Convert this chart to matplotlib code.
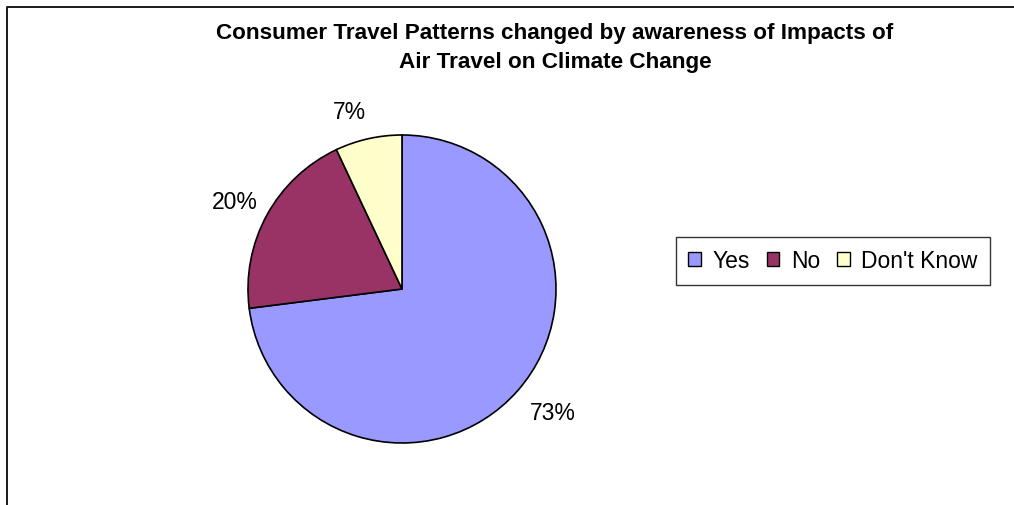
import matplotlib

matplotlib.use("Agg")

import matplotlib.pyplot as plt
from matplotlib.lines import Line2D

plt.rcParams["font.family"] = ["Liberation Sans", "DejaVu Sans"]

TITLE = "Consumer Travel Patterns changed by awareness of Impacts of\nAir Travel on Climate Change"
CATEGORIES = ["Yes", "No", "Don't Know"]
SHARES = [73, 20, 7]
COLORS = ["#9999FF", "#993366", "#FFFFCC"]

# label anchor points in pie units (radius = 1)
LABEL_XY = [(0.98, -0.80), (-1.085, 0.565), (-0.34, 1.15)]

W, H = 1014, 506
fig = plt.figure(figsize=(W / 100, H / 100), dpi=100)
fig.patch.set_facecolor("white")

# chart-area frame: only the left and top edges fall inside the image
fx, fy = 7 / W, 1 - 8 / H
fig.add_artist(Line2D([fx, fx, 1.0], [0.0, fy, fy], transform=fig.transFigure,
                      color="#1a1a1a", linewidth=1.4))

cx, cy, r = 402, 290, 154
ax = fig.add_axes([(cx - r) / W, (H - cy - r) / H, 2 * r / W, 2 * r / H])
wedges, _ = ax.pie(
    SHARES,
    colors=COLORS,
    startangle=90,
    counterclock=False,
    radius=1.0,
    wedgeprops={"edgecolor": "black", "linewidth": 1.2},
)
ax.set_xlim(-1, 1)
ax.set_ylim(-1, 1)
ax.set_aspect("equal")
ax.axis("off")

for val, (lx, ly) in zip(SHARES, LABEL_XY):
    ax.text(lx, ly, f"{val}%", ha="center", va="center", fontsize=16.5)

fig.text(555 / W, 1 - 48 / H, TITLE, ha="center", va="center", fontsize=16.2,
         fontweight="bold", linespacing=1.5)

leg = fig.legend(
    wedges,
    CATEGORIES,
    loc="center",
    bbox_to_anchor=(833 / W, 1 - 262 / H),
    ncol=3,
    fontsize=16.5,
    frameon=True,
    fancybox=False,
    handlelength=0.55,
    handleheight=0.55,
    handletextpad=0.5,
    columnspacing=0.75,
    borderpad=0.55,
)
leg.get_frame().set_edgecolor("black")
leg.get_frame().set_linewidth(1.0)
for h in leg.legend_handles:
    h.set_linewidth(1.0)

fig.savefig("out.png", dpi=100)
